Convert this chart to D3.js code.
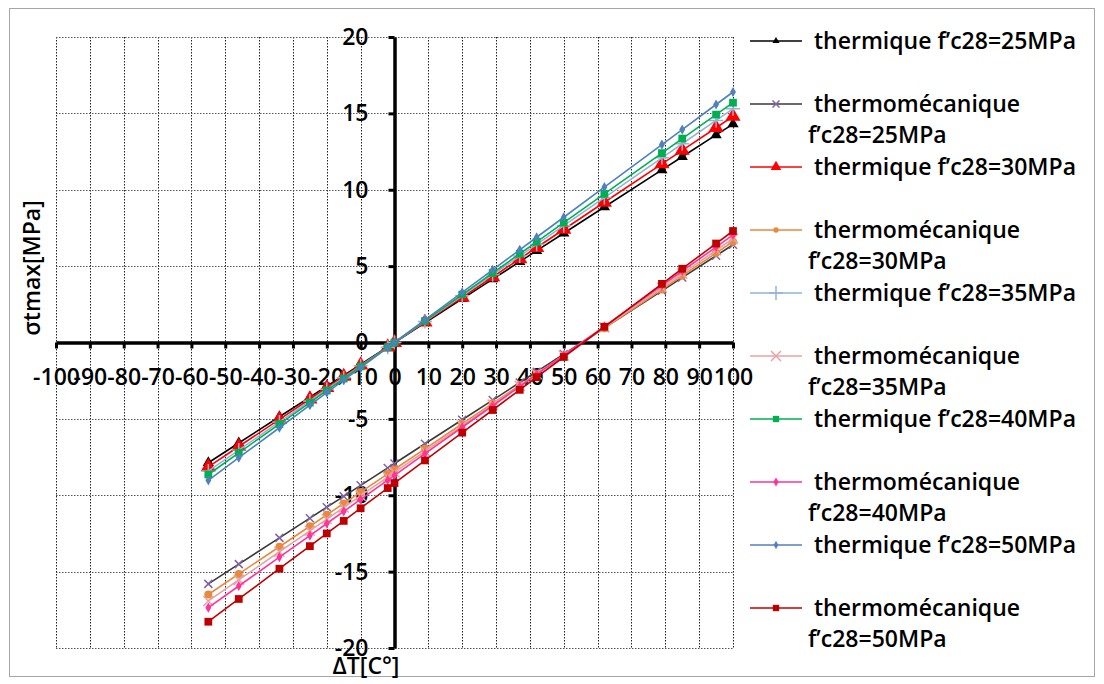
<!DOCTYPE html>
<html>
<head>
<meta charset="utf-8">
<script src="https://cdn.jsdelivr.net/npm/d3@7"></script>
<style>
  body { margin: 0; background: #fff; }
  text { font-family: "Open Sans", Lato, sans-serif; fill: #000; }
</style>
</head>
<body>
<svg id="chart" width="1104" height="684"></svg>
<script>
// temperatures (ΔT, °C) shared by every series
const deltaT = [-55, -46, -34, -25, -20, -15, -10, -2, 0, 9, 20, 29, 37, 42, 50, 62, 79, 85, 95, 100];

// thermal stresses σtmax [MPa]
const thermique25 = [-7.87, -6.58, -4.86, -3.58, -2.86, -2.15, -1.43, -0.29, 0, 1.29, 2.86, 4.15, 5.29, 6.01, 7.15, 8.87, 11.30, 12.16, 13.59, 14.30];
const thermique30 = [-8.14, -6.81, -5.03, -3.70, -2.96, -2.22, -1.48, -0.30, 0, 1.33, 2.96, 4.29, 5.48, 6.22, 7.40, 9.18, 11.69, 12.58, 14.06, 14.80];
const thermique35 = [-8.42, -7.04, -5.20, -3.83, -3.06, -2.30, -1.53, -0.31, 0, 1.38, 3.06, 4.44, 5.66, 6.43, 7.65, 9.49, 12.09, 13.01, 14.54, 15.30];
const thermique40 = [-8.64, -7.22, -5.34, -3.93, -3.14, -2.36, -1.57, -0.31, 0, 1.41, 3.14, 4.55, 5.81, 6.59, 7.85, 9.73, 12.40, 13.35, 14.92, 15.70];
const thermique50 = [-9.02, -7.54, -5.58, -4.10, -3.28, -2.46, -1.64, -0.33, 0, 1.48, 3.28, 4.76, 6.07, 6.89, 8.20, 10.17, 12.96, 13.94, 15.58, 16.40];

// thermo-mechanical stresses σtmax [MPa]
const thermomeca25 = [-15.80, -14.51, -12.79, -11.50, -10.78, -10.07, -9.35, -8.21, -7.92, -6.63, -5.06, -3.77, -2.62, -1.91, -0.76, 0.96, 3.39, 4.25, 5.68, 6.40];
const thermomeca30 = [-16.50, -15.15, -13.37, -12.03, -11.28, -10.54, -9.79, -8.60, -8.30, -6.96, -5.32, -3.98, -2.79, -2.04, -0.85, 0.94, 3.47, 4.37, 5.86, 6.60];
const thermomeca35 = [-16.92, -15.54, -13.70, -12.33, -11.56, -10.80, -10.03, -8.81, -8.50, -7.12, -5.44, -4.06, -2.84, -2.07, -0.85, 0.99, 3.59, 4.51, 6.04, 6.80];
const thermomeca40 = [-17.36, -15.94, -14.05, -12.64, -11.85, -11.06, -10.27, -9.01, -8.70, -7.28, -5.55, -4.14, -2.88, -2.09, -0.83, 1.06, 3.73, 4.68, 6.25, 7.04];
const thermomeca50 = [-18.28, -16.79, -14.81, -13.33, -12.50, -11.68, -10.85, -9.53, -9.20, -7.72, -5.90, -4.42, -3.10, -2.27, -0.95, 1.03, 3.84, 4.83, 6.48, 7.30];

const seriesLabels = [
    ["thermique f’c28=25MPa"],
    ["thermomécanique", "f’c28=25MPa"],
    ["thermique f’c28=30MPa"],
    ["thermomécanique", "f’c28=30MPa"],
    ["thermique f’c28=35MPa"],
    ["thermomécanique", "f’c28=35MPa"],
    ["thermique f’c28=40MPa"],
    ["thermomécanique", "f’c28=40MPa"],
    ["thermique f’c28=50MPa"],
    ["thermomécanique", "f’c28=50MPa"]
];

const xTickValues = d3.range(-100, 101, 10);
const yTickValues = d3.range(-20, 21, 5);
const xAxisTitle = "ΔT[C°]";
const yAxisTitle = "σtmax[MPa]";

// series table = values + look
const series = [
    { values: thermique25, line: "#000000", mark: "#000000", kind: "triangle", size: 55, legendSize: 22 },
    { values: thermomeca25, line: "#3a3a3a", mark: "#8064a2", kind: "cross", size: 8, legendSize: 7 },
    { values: thermique30, line: "#ff0000", mark: "#ff0000", kind: "triangle", size: 100, legendSize: 50 },
    { values: thermomeca30, line: "#e8893c", mark: "#e8893c", kind: "circle", size: 50, legendSize: 22 },
    { values: thermique35, line: "#95b3d7", mark: "#95b3d7", kind: "plus", size: 14, legendSize: 14 },
    { values: thermomeca35, line: "#e6a3a1", mark: "#e6a3a1", kind: "cross", size: 10, legendSize: 10 },
    { values: thermique40, line: "#00b050", mark: "#00b050", kind: "square", size: 60, legendSize: 40 },
    { values: thermomeca40, line: "#ff3399", mark: "#ff3399", kind: "diamond", size: 30, legendSize: 24 },
    { values: thermique50, line: "#4f81bd", mark: "#4f81bd", kind: "diamond", size: 30, legendSize: 20 },
    { values: thermomeca50, line: "#c00000", mark: "#c00000", kind: "square", size: 60, legendSize: 40 }
].map((s, i) => ({ ...s, label: seriesLabels[i], points: deltaT.map((t, j) => ({ t, v: s.values[j] })) }));

const svg = d3.select("#chart");

// outer frame
svg.append("rect")
    .attr("x", 9.5).attr("y", 8.5)
    .attr("width", 1085).attr("height", 668)
    .attr("fill", "#fff")
    .attr("stroke", "#a6a6a6");

const x = d3.scaleLinear().domain([-100, 100]).range([56, 733]);
const y = d3.scaleLinear().domain([-20, 20]).range([648, 37]);

// dotted grid
const grid = svg.append("g").attr("stroke", "#222").attr("stroke-width", 1).attr("stroke-dasharray", "1.5,1.5");
grid.selectAll("line.v")
    .data(xTickValues)
    .join("line")
    .attr("class", "v")
    .attr("x1", (d) => Math.round(x(d)) + 0.5).attr("x2", (d) => Math.round(x(d)) + 0.5)
    .attr("y1", y(20)).attr("y2", y(-20));
grid.selectAll("line.h")
    .data(yTickValues)
    .join("line")
    .attr("class", "h")
    .attr("stroke", "#555")
    .attr("x1", x(-100)).attr("x2", x(100))
    .attr("y1", (d) => Math.round(y(d)) + 0.5).attr("y2", (d) => Math.round(y(d)) + 0.5);

// axes crossing at the origin (plain hyphen for negatives, as in the original)
const fmt = (d) => String(d);
const xAxis = svg.append("g")
    .attr("transform", `translate(0,${y(0)})`)
    .call(d3.axisBottom(x).tickValues(xTickValues).tickFormat(fmt).tickSize(6).tickSizeOuter(0).tickPadding(20));
const yAxis = svg.append("g")
    .attr("transform", `translate(${x(0)},0)`)
    .call(d3.axisLeft(y).tickValues(yTickValues).tickFormat(fmt).tickSize(6).tickSizeOuter(0).tickPadding(20));

[xAxis, yAxis].forEach((ax) => {
    ax.select(".domain").attr("stroke", "#000").attr("stroke-width", 3.5);
    ax.selectAll(".tick line").attr("stroke", "#000").attr("stroke-width", 3);
    ax.selectAll(".tick text")
        .attr("font-family", "\"Open Sans\", sans-serif")
        .attr("font-size", 23)
        .attr("font-weight", 600)
        .attr("fill", "#000");
});

// series lines and markers
function drawMarker(g, kind, color, size, cx, cy) {
    if (kind === "plus" || kind === "cross") {
        const h = size / 2;
        const d = kind === "plus"
            ? `M${-h},0H${h}M0,${-h}V${h}`
            : `M${-h},${-h}L${h},${h}M${-h},${h}L${h},${-h}`;
        g.append("path")
            .attr("transform", `translate(${cx},${cy})`)
            .attr("d", d)
            .attr("fill", "none")
            .attr("stroke", color)
            .attr("stroke-width", 1.5);
        return;
    }
    const type = { triangle: d3.symbolTriangle, circle: d3.symbolCircle, square: d3.symbolSquare, diamond: d3.symbolDiamond }[kind];
    g.append("path")
        .attr("transform", `translate(${cx},${cy})`)
        .attr("d", d3.symbol(type, size)())
        .attr("fill", color);
}

const line = d3.line().x((d) => x(d.t)).y((d) => y(d.v));
const plot = svg.append("g");

series.forEach((s) => {
    const g = plot.append("g");
    g.append("path")
        .datum(s.points)
        .attr("fill", "none")
        .attr("stroke", s.line)
        .attr("stroke-width", 1.6)
        .attr("d", line);
    s.points.forEach((p) => drawMarker(g, s.kind, s.mark, s.size, x(p.t), y(p.v)));
});

// axis titles
svg.append("text")
    .attr("transform", `translate(40,268) rotate(-90)`)
    .attr("text-anchor", "middle")
    .attr("font-size", 23)
    .attr("font-weight", 600)
    .text(yAxisTitle);
svg.append("text")
    .attr("x", 366).attr("y", 674)
    .attr("text-anchor", "middle")
    .attr("font-size", 23)
    .attr("font-weight", 600)
    .text(xAxisTitle);

// legend
const legend = svg.append("g");
series.forEach((s, i) => {
    const cy = 41 + i * 63;
    const item = legend.append("g");
    item.append("line")
        .attr("x1", 750).attr("x2", 802)
        .attr("y1", cy).attr("y2", cy)
        .attr("stroke", s.line)
        .attr("stroke-width", 1.6);
    drawMarker(item, s.kind, s.mark, s.legendSize, 776, cy);
    s.label.forEach((txt, k) => {
        item.append("text")
            .attr("x", k === 0 ? 814 : 808)
            .attr("y", cy + k * 31)
            .attr("dy", "0.35em")
            .attr("font-size", 23)
            .attr("font-weight", 600)
            .text(txt);
    });
});
</script>
</body>
</html>
